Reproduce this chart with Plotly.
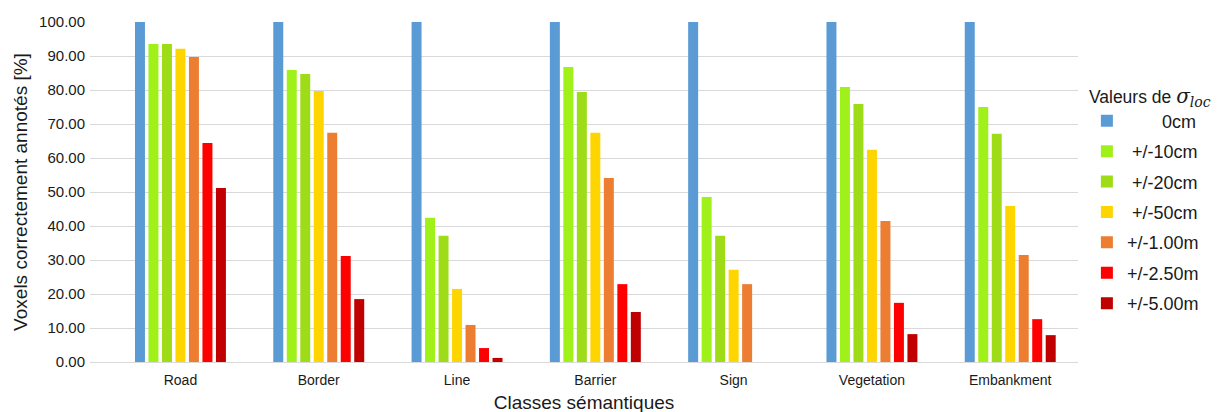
import plotly.graph_objects as go

categories = ["Road", "Border", "Line", "Barrier", "Sign", "Vegetation", "Embankment"]
series_names = ["0cm", "+/-10cm", "+/-20cm", "+/-50cm", "+/-1.00m", "+/-2.50m", "+/-5.00m"]
v_0cm = [100, 100, 100, 100, 100, 100, 100]
v_10cm = [93.5, 85.9, 42.4, 86.8, 48.5, 80.9, 75.0]
v_20cm = [93.5, 84.7, 37.1, 79.4, 37.1, 75.9, 67.1]
v_50cm = [92.1, 79.7, 21.5, 67.4, 27.1, 62.4, 45.9]
v_1m = [89.7, 67.4, 10.9, 54.1, 22.9, 41.5, 31.5]
v_2_5m = [64.4, 31.2, 4.1, 22.9, None, 17.4, 12.6]
v_5m = [51.2, 18.5, 1.2, 14.7, None, 8.2, 7.9]
all_values = [v_0cm, v_10cm, v_20cm, v_50cm, v_1m, v_2_5m, v_5m]
colors = ["#5B9BD5", "#A0F01A", "#9EDC18", "#FFD500", "#ED7D31", "#FF0000", "#C00000"]
NB = "\u00a0"
legend_labels = [NB * 7 + "0cm", NB + "+/-10cm", NB + "+/-20cm",
                 NB + "+/-50cm", "+/-1.00m", "+/-2.50m", "+/-5.00m"]

fig = go.Figure()
for i, (name, lab, vals, col) in enumerate(zip(series_names, legend_labels, all_values, colors)):
    fig.add_trace(go.Bar(x=categories, y=vals, name=lab, legendgroup=f"g{i}",
                         marker=dict(color=col, line=dict(width=0))))

fig.update_layout(
    width=1225, height=412,
    barmode="group", bargap=0.317, bargroupgap=0.26,
    plot_bgcolor="white", paper_bgcolor="white",
    font=dict(family="Liberation Sans, Arial, sans-serif", color="#1a1a1a", size=14),
    margin=dict(l=82, r=155, t=14, b=58, autoexpand=False),
    legend=dict(
        title=dict(text="Valeurs de <span style='font-family:DejaVu Serif;font-size:20px'><i>σ<sub>loc</sub></i></span>",
                   font=dict(size=17.5)),
        font=dict(size=18), x=1.009, y=0.83, yanchor="top", xanchor="left",
        itemwidth=30, tracegroupgap=4, itemclick=False,
    ),
    xaxis=dict(
        title=dict(text="Classes sémantiques", font=dict(size=19), standoff=8),
        tickfont=dict(size=14), showgrid=False, showline=False, ticks="",
        range=[-0.654, 6.49], automargin=False, ticklabelstandoff=8,
    ),
    yaxis=dict(
        title=dict(text="Voxels correctement annotés [%]", font=dict(size=19), standoff=6),
        range=[0, 100], tickvals=[0, 10, 20, 30, 40, 50, 60, 70, 80, 90, 100],
        tickformat=".2f", tickfont=dict(size=15), gridcolor="#D9D9D9", gridwidth=1,
        zeroline=True, zerolinecolor="#D9D9D9", zerolinewidth=1, ticks="",
        automargin=True, ticklabelstandoff=4,
    ),
)

fig.write_html("out.html")
